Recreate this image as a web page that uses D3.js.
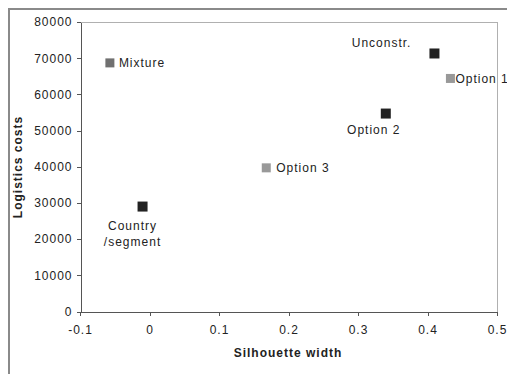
<!DOCTYPE html>
<html>
<head>
<meta charset="utf-8">
<script src="https://cdn.jsdelivr.net/npm/d3@7"></script>
<style>
  html, body { margin: 0; padding: 0; background: #fff; }
  svg text { font-family: "Liberation Sans", Arial, sans-serif; fill: #222; letter-spacing: 1px; }
  .tick text { font-size: 12px; }
  .axis-title { font-size: 12px; font-weight: bold; }
  .pt-label { font-size: 12px; }
</style>
</head>
<body>
<div id="chart"></div>
<script>
'use strict';

// ── Data ────────────────────────────────────────────────────────────────────
const names   = ['Mixture', 'Unconstr.', 'Option 1', 'Option 2', 'Option 3', 'Country/segment'];
const silWidth = [-0.057, 0.41, 0.433, 0.34, 0.168, -0.01];
const costs    = [68700, 71300, 64400, 54700, 39700, 29000];
const groups   = ['mid', 'dark', 'light', 'dark', 'light', 'dark'];
const xTicks   = [-0.1, 0, 0.1, 0.2, 0.3, 0.4, 0.5];
const yTicks   = [0, 10000, 20000, 30000, 40000, 50000, 60000, 70000, 80000];

// ── Layout ──────────────────────────────────────────────────────────────────
const W = 507, H = 374;
const PLOT = { left: 80, right: 497, top: 22, bottom: 311.5 };

const FILL = { dark: '#222222', mid: '#707070', light: '#999999' };
const SIZE = { dark: 10, mid: 9, light: 9 };

// label placement relative to point (anchor, dx, dy lines)
const LABEL_POS = {
  'Mixture':         { anchor: 'start',  dx: 9,   lines: [['Mixture', 4]] },
  'Unconstr.':       { anchor: 'end',    dx: -23, lines: [['Unconstr.', -6]] },
  'Option 1':        { anchor: 'start',  dx: 5,   lines: [['Option 1', 5]] },
  'Option 2':        { anchor: 'middle', dx: -12, lines: [['Option 2', 20]] },
  'Option 3':        { anchor: 'start',  dx: 10,  lines: [['Option 3', 4]] },
  'Country/segment': { anchor: 'middle', dx: -10, lines: [['Country', 23], ['/segment', 39]] },
};

const x = d3.scaleLinear().domain([-0.1, 0.5]).range([PLOT.left, PLOT.right]);
const y = d3.scaleLinear().domain([0, 80000]).range([PLOT.bottom, PLOT.top]);

const svg = d3.select('#chart').append('svg')
  .attr('width', W).attr('height', H);

// outer chart frame (clipped on right/bottom)
svg.append('rect')
  .attr('x', 9).attr('y', 9).attr('width', 600).attr('height', 600)
  .attr('fill', 'none').attr('stroke', '#8a8a8a').attr('stroke-width', 2);

// plot area border (top/right)
svg.append('path')
  .attr('d', `M${PLOT.left},${PLOT.top + 0.5}H${PLOT.right + 0.5}V${PLOT.bottom}`)
  .attr('fill', 'none').attr('stroke', '#b0b0b0').attr('stroke-width', 1)
  .attr('shape-rendering', 'crispEdges');

// ── Axes ────────────────────────────────────────────────────────────────────
const yAxis = svg.append('g')
  .attr('transform', `translate(${PLOT.left + 0.5},0)`)
  .call(d3.axisLeft(y).tickValues(yTicks).tickFormat(d3.format('d'))
    .tickSize(4).tickSizeOuter(0).tickPadding(4));

// plain hyphen for negatives, like the original
const fmtX = d => d === 0 ? '0' : d3.format('.1f')(d).replace('\u2212', '-');

const xAxis = svg.append('g')
  .attr('transform', `translate(0,${PLOT.bottom})`)
  .call(d3.axisBottom(x).tickValues(xTicks).tickFormat(fmtX)
    .tickSize(4).tickSizeOuter(0).tickPadding(10));

[xAxis, yAxis].forEach(g => {
  g.attr('font-family', null).attr('font-size', null);
  g.select('.domain').attr('stroke', '#555').attr('shape-rendering', 'crispEdges');
  g.selectAll('.tick line').attr('stroke', '#555').attr('shape-rendering', 'crispEdges');
  g.selectAll('.tick text').attr('fill', '#222');
});
xAxis.selectAll('.tick text').attr('dy', '0.72em');

// axis titles
svg.append('text')
  .attr('class', 'axis-title')
  .attr('x', 288).attr('y', 357)
  .attr('text-anchor', 'middle')
  .text('Silhouette width');

svg.append('text')
  .attr('class', 'axis-title')
  .attr('transform', `translate(22,167) rotate(-90)`)
  .attr('text-anchor', 'middle')
  .text('Logistics costs');

// ── Points ──────────────────────────────────────────────────────────────────
const data = names.map((n, i) => ({ name: n, sx: silWidth[i], cost: costs[i], group: groups[i] }));

svg.append('g').selectAll('rect')
  .data(data)
  .enter().append('rect')
  .attr('x', d => x(d.sx) - SIZE[d.group] / 2)
  .attr('y', d => y(d.cost) - SIZE[d.group] / 2)
  .attr('width', d => SIZE[d.group])
  .attr('height', d => SIZE[d.group])
  .attr('fill', d => FILL[d.group]);

// point labels
const lbl = svg.append('g');
data.forEach(d => {
  const p = LABEL_POS[d.name];
  p.lines.forEach(([txt, dy]) => {
    lbl.append('text')
      .attr('class', 'pt-label')
      .attr('x', x(d.sx) + p.dx)
      .attr('y', y(d.cost) + dy)
      .attr('text-anchor', p.anchor)
      .text(txt);
  });
});
</script>
</body>
</html>
